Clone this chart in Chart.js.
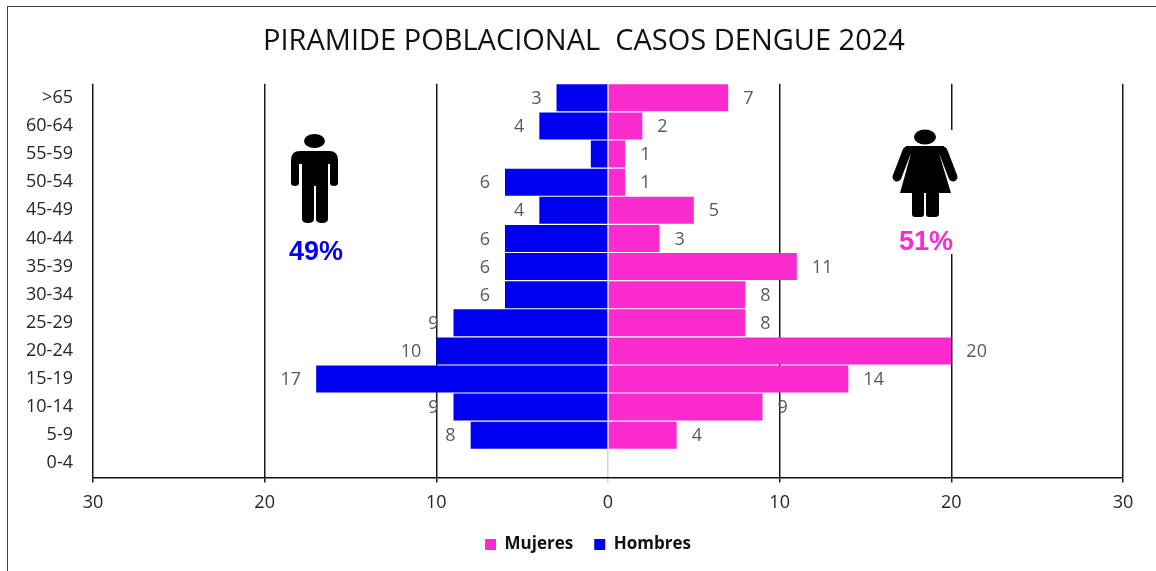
<!DOCTYPE html>
<html>
<head>
<meta charset="utf-8">
<style>
html,body{margin:0;padding:0;background:#fff;width:1156px;height:571px;overflow:hidden}
#wrap{position:relative;width:1156px;height:571px}
#frame{position:absolute;left:7px;top:6px;right:0;bottom:0;border-left:1.5px solid #444;border-top:1.5px solid #444}
canvas{position:absolute;left:0;top:0}
</style>
</head>
<body>
<div id="wrap"><div id="frame"></div><canvas id="c" width="1156" height="571"></canvas></div>
<script src="https://cdn.jsdelivr.net/npm/chart.js@4"></script>
<script>
const titleText = 'PIRAMIDE POBLACIONAL  CASOS DENGUE 2024';
const categories = ['>65','60-64','55-59','50-54','45-49','40-44','35-39','30-34','25-29','20-24','15-19','10-14','5-9','0-4'];
const mujeres = [7,2,1,1,5,3,11,8,8,20,14,9,4,0];
const hombres = [3,4,1,6,4,6,6,6,9,10,17,9,8,0];
const hombresSinEtiqueta = ['55-59'];
const shareHombres = '49%';
const shareMujeres = '51%';
const PINK = '#fb2bd0', BLUE = '#0000f0';

const art = {
  id:'art',
  afterLayout(ch){
    ch.titleBlock.left+=12.5; ch.titleBlock.right+=12.5;
    ch.legend.left+=16.5; ch.legend.right+=16.5;
  },
  beforeDatasetsDraw(ch){
    const c = ch.ctx;
    c.save(); c.fillStyle='#fff'; c.fillRect(888,130,66,124); c.restore();
  },
  afterDraw(ch){
    const c = ch.ctx;
    c.save();
    // value labels
    c.font='18px "Open Sans"'; c.fillStyle='#595959'; c.textBaseline='middle';
    ch.data.datasets.forEach((ds,i)=>{
      ch.getDatasetMeta(i).data.forEach((b,j)=>{
        const v=Math.abs(ds.data[j]); if(!v) return;
        if(ds.data[j]<0){
          if(hombresSinEtiqueta.includes(categories[j])) return;
          c.textAlign='right'; c.fillText(v,b.x-15,b.y+1);
        } else {c.textAlign='left'; c.fillText(v,b.x+15,b.y+1);}
      });
    });
    // man
    c.fillStyle='#000';
    c.beginPath(); c.ellipse(314.5,141,10.5,7,0,0,Math.PI*2); c.fill();
    c.fill(new Path2D('M291 160 Q291 151 300 151 L329 151 Q338 151 338 160 L338 183 Q338 186 334 186 Q330 186 330 183 L330 164 L328 164 L328 219 Q328 223 322 223 Q316 223 316 219 L316 186 L314 186 L314 219 Q314 223 308 223 Q302 223 302 219 L302 164 L299 164 L299 183 Q299 186 295 186 Q291 186 291 183 Z'));
    // woman
    c.beginPath(); c.ellipse(925,137,11,7.5,0,0,Math.PI*2); c.fill();
    c.strokeStyle='#000'; c.lineWidth=9; c.lineCap='round';
    c.beginPath(); c.moveTo(907,151); c.lineTo(897,177); c.moveTo(943,151); c.lineTo(953,177); c.stroke();
    c.fillRect(906,146,38,9);
    c.fillStyle='#fff';
    c.fill(new Path2D('M911 157 L898 193 L901 193 L913 157 Z M939 157 L952 193 L949 193 L937 157 Z'));
    c.fillStyle='#000';
    c.fill(new Path2D('M912 150 L938 150 L951 193 L939 193 L939 214 Q939 217 935 217 L929 217 Q926 217 926 214 L926 193 L924 193 L924 214 Q924 217 921 217 L915 217 Q912 217 912 214 L912 193 L900 193 Z'));
    // shares
    c.font='bold 27px "Liberation Sans"'; c.textAlign='center'; c.textBaseline='middle';
    c.fillStyle=BLUE; c.fillText(shareHombres,316,253);
    c.fillStyle=PINK; c.fillText(shareMujeres,926,243);
    c.restore();
  }
};

new Chart(document.getElementById('c'),{
  type:'bar',
  data:{labels:categories,datasets:[
    {label:'Mujeres',data:mujeres,backgroundColor:PINK,barPercentage:0.96,categoryPercentage:1},
    {label:'Hombres',data:hombres.map(v=>-v),backgroundColor:BLUE,barPercentage:0.96,categoryPercentage:1}
  ]},
  plugins:[art],
  options:{
    indexAxis:'y',responsive:false,animation:false,
    layout:{padding:{left:20,right:33,top:24,bottom:8}},
    scales:{
      x:{min:-30,max:30,stacked:true,
        afterFit(s){s.height-=9;},
        ticks:{stepSize:10,color:'#262626',font:{family:'Open Sans',size:18},padding:10,maxRotation:0,callback:v=>Math.abs(v)},
        grid:{color:c=>c.tick&&c.tick.value===0?'#d4d4d4':'#1a1a1a',lineWidth:1.5,tickLength:5,drawTicks:true},
        border:{display:true,color:'#111',width:1.5}
      },
      y:{stacked:true,
        afterFit(s){s.width=73;},
        ticks:{color:'#262626',font:{family:'Open Sans',size:18},padding:12,autoSkip:false},
        grid:{display:false},border:{display:false}
      }
    },
    plugins:{
      title:{display:true,text:titleText,color:'#111',font:{family:'Open Sans',size:29,weight:'normal'},padding:{top:0,bottom:25}},
      legend:{position:'bottom',labels:{boxWidth:11,boxHeight:11,color:'#111',padding:21,font:{family:'Open Sans',size:17,weight:'bold'}}},
      tooltip:{enabled:false}
    }
  }
});
</script>
</body>
</html>
